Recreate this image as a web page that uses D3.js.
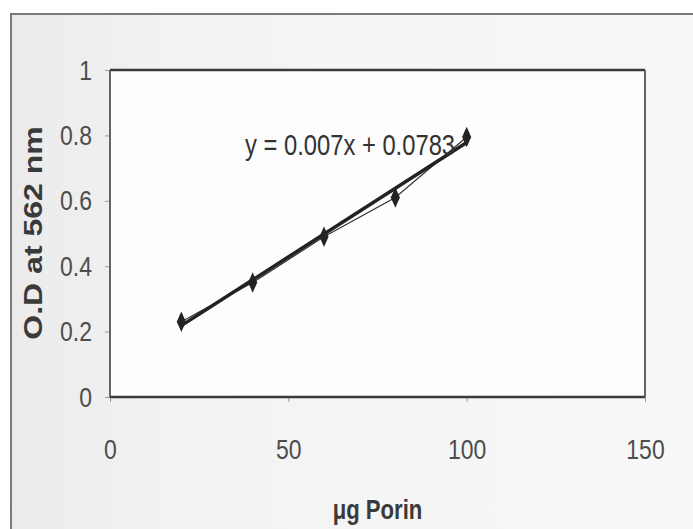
<!DOCTYPE html>
<html>
<head>
<meta charset="utf-8">
<script src="https://cdn.jsdelivr.net/npm/d3@7"></script>
<style>
  html, body { margin: 0; padding: 0; background: #ffffff; }
  svg { display: block; }
  text { font-family: "Liberation Sans", Arial, sans-serif; }
</style>
</head>
<body>
<svg id="chart" width="693" height="529"></svg>
<script>
// Porin standard curve: absorbance vs amount of porin
const porinUg = [20, 40, 60, 80, 100];
const odValues = [0.23, 0.35, 0.49, 0.61, 0.795];
const xTicks = [0, 50, 100, 150];
const yTicks = [0, 0.2, 0.4, 0.6, 0.8, 1];
const fitSlope = 0.007;
const fitIntercept = 0.0783;
const equationLabel = "y = 0.007x + 0.0783";
const xTitle = "μg Porin";
const yTitle = "O.D at 562 nm";

// all lettering uses a narrow face: glyphs are squeezed horizontally
const SQ = 0.82;

const svg = d3.select("#chart");

const defs = svg.append("defs");
const bg = defs.append("linearGradient").attr("id", "frameFill").attr("x1", 0).attr("x2", 1).attr("y1", 0).attr("y2", 0);
bg.append("stop").attr("offset", 0).attr("stop-color", "#ebebeb");
bg.append("stop").attr("offset", 0.25).attr("stop-color", "#f3f3f3");
bg.append("stop").attr("offset", 1).attr("stop-color", "#f8f8f8");

// chart frame
svg.append("rect")
  .attr("x", 11).attr("y", 14).attr("width", 700).attr("height", 530)
  .attr("fill", "url(#frameFill)").attr("stroke", "#7a7a7a").attr("stroke-width", 2);

const x = d3.scaleLinear().domain([0, 150]).range([110, 645]);
const y = d3.scaleLinear().domain([0, 1]).range([397, 70]);

// plot area
svg.append("rect")
  .attr("x", x(0)).attr("y", y(1))
  .attr("width", x(150) - x(0)).attr("height", y(0) - y(1))
  .attr("fill", "#fdfdfd");

// axes
const xAxis = svg.append("g")
  .attr("transform", `translate(0,${y(0)})`)
  .call(d3.axisBottom(x).tickValues(xTicks).tickSize(5).tickFormat(d3.format("d")));
const yAxis = svg.append("g")
  .attr("transform", `translate(${x(0)},0)`)
  .call(d3.axisLeft(y).tickValues(yTicks).tickSize(5)
    .tickFormat(d => d === 0 || d === 1 ? String(d) : d3.format(".1f")(d)));

[xAxis, yAxis].forEach(g => {
  g.select(".domain").remove();
  g.selectAll(".tick line").attr("stroke", "#9a9a9a").attr("stroke-width", 1);
  g.selectAll(".tick text")
    .attr("fill", "#4d4d4d")
    .attr("font-family", "'Liberation Sans', Arial, sans-serif")
    .attr("font-size", 28)
    .attr("x", 0).attr("y", 0).attr("dy", null);
});
xAxis.selectAll(".tick text")
  .attr("text-anchor", "middle")
  .attr("transform", `translate(0,62) scale(${SQ},1)`);
yAxis.selectAll(".tick text")
  .attr("text-anchor", "end")
  .attr("transform", `translate(-18,9) scale(${SQ},1)`);

// plot border: darker top and bottom edges
svg.append("line").attr("x1", x(0)).attr("x2", x(150)).attr("y1", y(1)).attr("y2", y(1))
  .attr("stroke", "#3a3a3a").attr("stroke-width", 2.5);
svg.append("line").attr("x1", x(0)).attr("x2", x(150)).attr("y1", y(0)).attr("y2", y(0))
  .attr("stroke", "#3a3a3a").attr("stroke-width", 2.5);
svg.append("line").attr("x1", x(0)).attr("x2", x(0)).attr("y1", y(1)).attr("y2", y(0))
  .attr("stroke", "#555").attr("stroke-width", 1.8);
svg.append("line").attr("x1", x(150)).attr("x2", x(150)).attr("y1", y(1)).attr("y2", y(0))
  .attr("stroke", "#555").attr("stroke-width", 1.8);

const pts = porinUg.map((v, i) => [v, odValues[i]]);

// data series line
svg.append("path")
  .datum(pts)
  .attr("fill", "none")
  .attr("stroke", "#333")
  .attr("stroke-width", 1.2)
  .attr("d", d3.line().x(d => x(d[0])).y(d => y(d[1])));

// linear trendline
const fitX = d3.extent(porinUg);
svg.append("path")
  .datum(fitX.map(v => [v, fitSlope * v + fitIntercept]))
  .attr("fill", "none")
  .attr("stroke", "#222")
  .attr("stroke-width", 3.5)
  .attr("d", d3.line().x(d => x(d[0])).y(d => y(d[1])));

// diamond markers
svg.append("g").selectAll("path")
  .data(pts)
  .join("path")
  .attr("transform", d => `translate(${x(d[0])},${y(d[1])}) scale(0.85,1.1)`)
  .attr("d", d3.symbol().type(d3.symbolDiamond).size(100))
  .attr("fill", "#222");

// trendline equation
svg.append("text")
  .attr("transform", `translate(245,155) scale(${SQ},1)`)
  .attr("font-size", 29)
  .attr("fill", "#333")
  .text(equationLabel);

// axis titles
svg.append("text")
  .attr("transform", `translate(${(x(0) + x(150)) / 2},519) scale(${SQ},1)`)
  .attr("text-anchor", "middle")
  .attr("font-size", 27).attr("font-weight", "bold")
  .attr("fill", "#3a3a3a")
  .text(xTitle);

svg.append("text")
  .attr("transform", `translate(42,233) scale(${SQ},1) rotate(-90)`)
  .attr("text-anchor", "middle")
  .attr("font-size", 32).attr("font-weight", "bold")
  .attr("fill", "#3a3a3a")
  .text(yTitle);
</script>
</body>
</html>
